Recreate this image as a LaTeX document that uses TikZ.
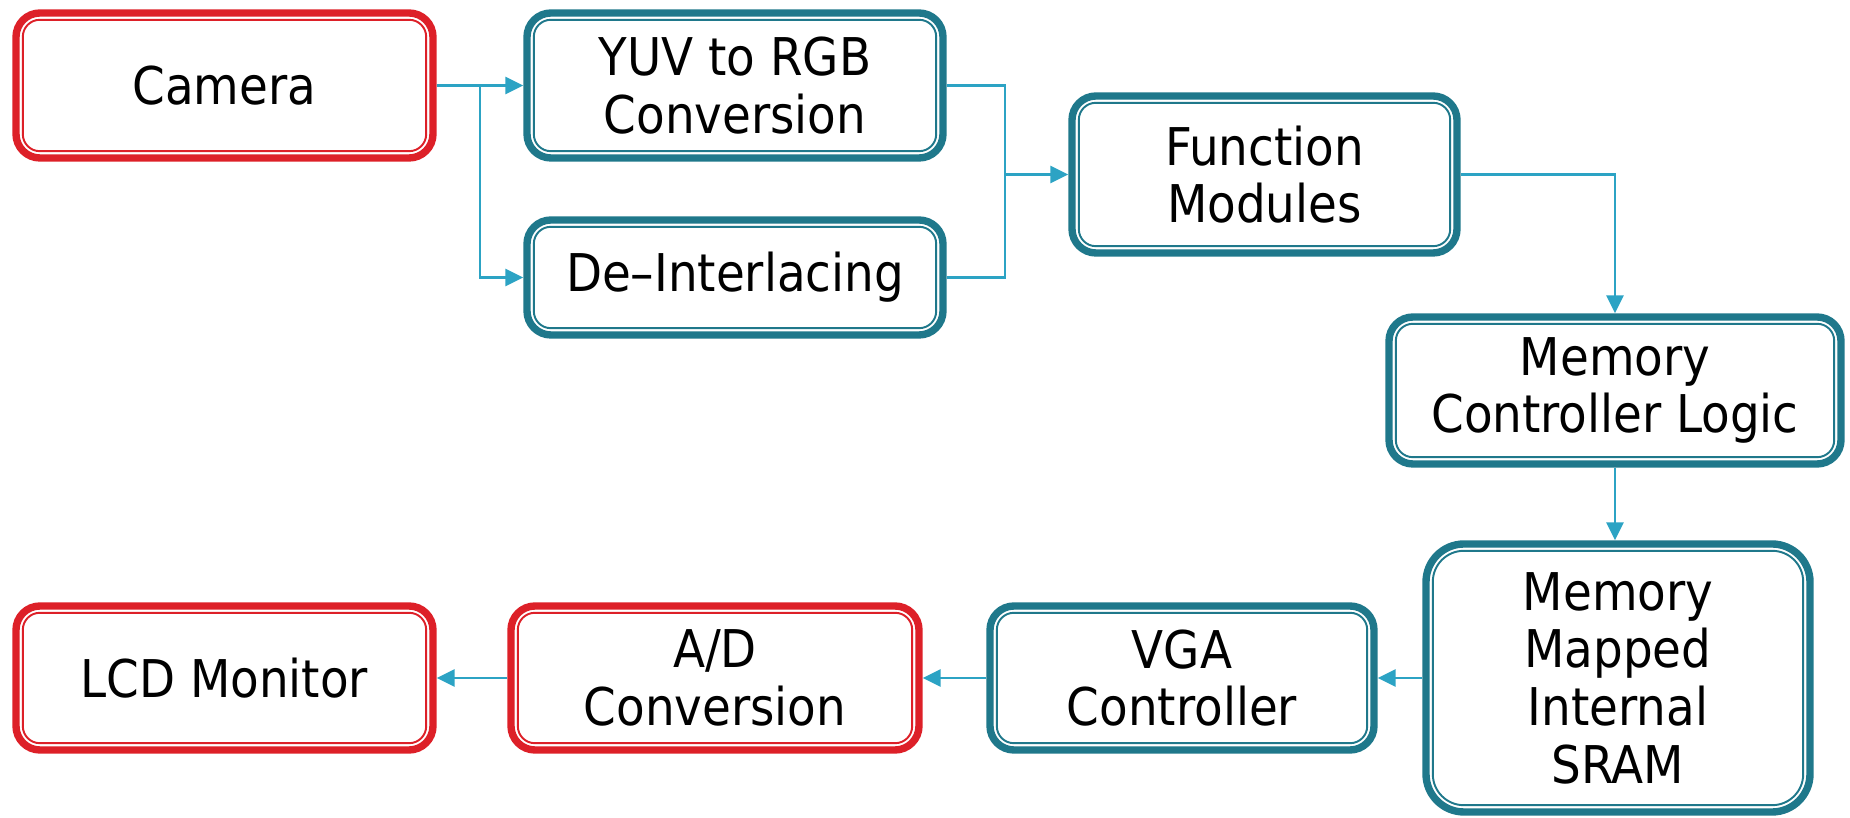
\documentclass[tikz,border=0pt]{standalone}
\usepackage{fontspec}
\setmainfont{DejaVu Sans Condensed}
\usetikzlibrary{positioning}
\usetikzlibrary{arrows.meta}

\definecolor{boxred}{RGB}{221,32,40}
\definecolor{boxteal}{RGB}{31,120,139}
\definecolor{wirecyan}{RGB}{44,163,196}

\tikzset{
	blk/.style={draw=#1, line width=2.1pt, rounded corners=0.24cm, align=center, inner sep=0pt,
		font=\fontsize{14.8}{16.4}\selectfont},
	wire/.style={wirecyan, line width=0.8pt, -{Triangle[length=0.18cm, width=0.17cm]}},
	wireplain/.style={wirecyan, line width=0.8pt}
}

\begin{document}
\begin{tikzpicture}
	\useasboundingbox (0, 0) rectangle (18.5, -8.18);
	\node[blk=boxred, minimum width=4.17cm, minimum height=1.45cm] (cam) at (2.245, -0.855) {Camera};
	\node[blk=boxteal, minimum width=4.16cm, minimum height=1.45cm] (yuv) at (7.35, -0.855) {YUV to RGB\\Conversion};
	\node[blk=boxteal, minimum width=4.16cm, minimum height=1.15cm] (deint) at (7.35, -2.775) {De--Interlacing};
	\node[blk=boxteal, minimum width=3.85cm, minimum height=1.57cm] (func) at (12.645, -1.745) {Function\\Modules};
	\node[blk=boxteal, minimum width=4.52cm, minimum height=1.47cm] (mcl) at (16.15, -3.905) {Memory\\Controller Logic};
	\node[blk=boxteal, minimum width=3.84cm, minimum height=2.68cm, rounded corners=0.38cm] (sram) at (16.18, -6.78) {Memory\\Mapped\\Internal\\SRAM};
	\node[blk=boxteal, minimum width=3.84cm, minimum height=1.44cm] (vga) at (11.82, -6.78) {VGA\\Controller};
	\node[blk=boxred, minimum width=4.08cm, minimum height=1.44cm] (ad) at (7.15, -6.78) {A/D\\Conversion};
	\node[blk=boxred, minimum width=4.17cm, minimum height=1.44cm] (lcd) at (2.245, -6.78) {LCD Monitor};

	% inner thin border of every block
	\foreach \n/\c/\r in {cam/boxred/0.17, yuv/boxteal/0.17, deint/boxteal/0.17, func/boxteal/0.17, mcl/boxteal/0.17,
		sram/boxteal/0.31, vga/boxteal/0.17, ad/boxred/0.17, lcd/boxred/0.17}
		\draw[\c, line width=0.55pt, rounded corners=\r cm] ([shift={(0.105cm, 0.105cm)}]\n.south west) rectangle ([shift={(-0.105cm, -0.105cm)}]\n.north east);

	\coordinate (split) at (4.80, -0.855);
	\coordinate (join) at (10.05, -1.745);

	\draw[wire] (cam.east) -- (yuv.west);
	\draw[wire] (split) |- (deint.west);
	\draw[wireplain] (yuv.east) -| (join);
	\draw[wireplain] (deint.east) -| (join);
	\draw[wire] (join) -- (func.west);
	\draw[wire] (func.east) -| (mcl.north);
	\draw[wire] (mcl.south) -- (mcl.south |- sram.north);
	\draw[wire] (sram.west) -- (vga.east);
	\draw[wire] (vga.west) -- (ad.east);
	\draw[wire] (ad.west) -- (lcd.east);
\end{tikzpicture}
\end{document}
